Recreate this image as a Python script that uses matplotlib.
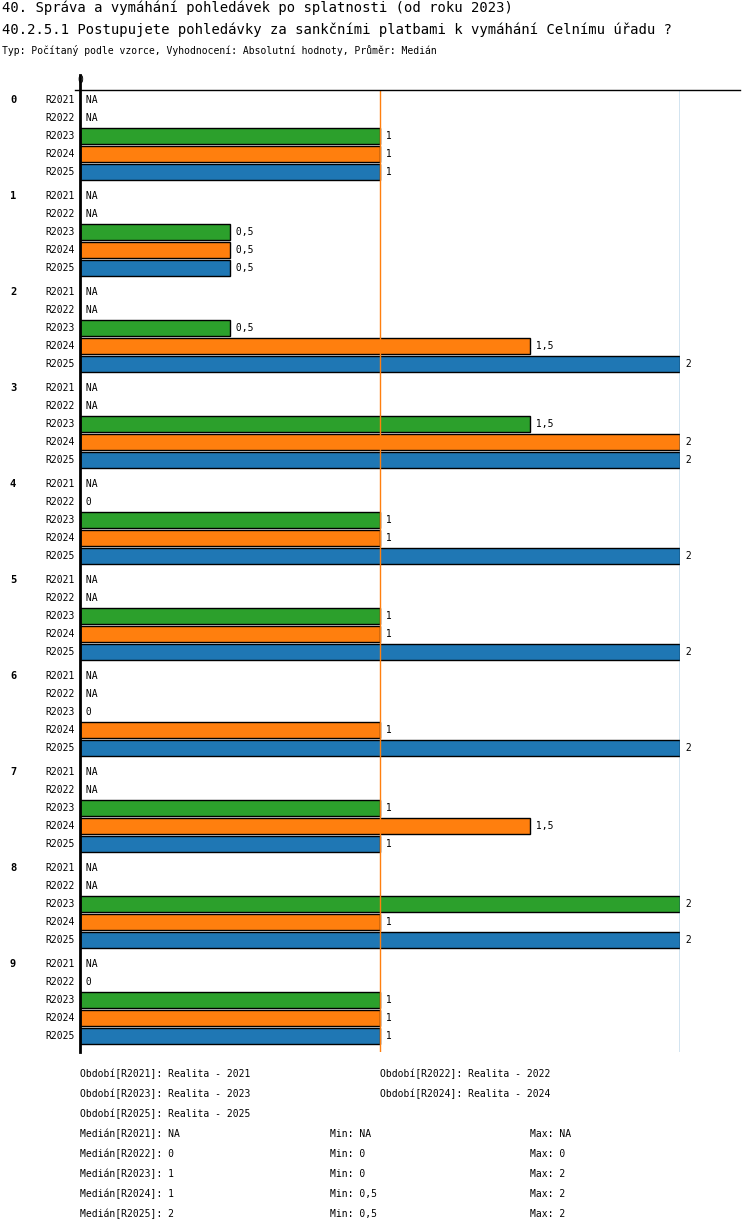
import numpy as np
import matplotlib
matplotlib.use('Agg')
from matplotlib import pyplot as plt

W, H = 750, 1232
NA = np.nan
groups = ['0', '1', '2', '3', '4', '5', '6', '7', '8', '9']
periods = ['R2021', 'R2022', 'R2023', 'R2024', 'R2025']
colors = {'R2021': '#d62728', 'R2022': '#9467bd', 'R2023': '#2ca02c',
          'R2024': '#ff7f0e', 'R2025': '#1f77b4'}
values = [
    [NA, NA, 1, 1, 1],
    [NA, NA, 0.5, 0.5, 0.5],
    [NA, NA, 0.5, 1.5, 2],
    [NA, NA, 1.5, 2, 2],
    [NA, 0, 1, 1, 2],
    [NA, NA, 1, 1, 2],
    [NA, NA, 0, 1, 2],
    [NA, NA, 1, 1.5, 1],
    [NA, NA, 2, 1, 2],
    [NA, 0, 1, 1, 1],
]
period_names = ['Období[R2021]: Realita - 2021', 'Období[R2022]: Realita - 2022',
                'Období[R2023]: Realita - 2023', 'Období[R2024]: Realita - 2024',
                'Období[R2025]: Realita - 2025']
stats = [('NA', 'NA', 'NA'), ('0', '0', '0'), ('1', '0', '2'),
         ('1', '0,5', '2'), ('2', '0,5', '2')]

MONO = 'DejaVu Sans Mono'


def fmt(v):
    if np.isnan(v):
        return 'NA'
    return ('%g' % v).replace('.', ',')


def px(x, y):
    return x / W, 1 - y / H


fig = plt.figure(figsize=(W / 100, H / 100), dpi=100)
top, bottom, left, right = 90, 1052, 80, 680
ax = fig.add_axes([left / W, 1 - bottom / H, (right - left) / W, (bottom - top) / H])
ax.set_xlim(0, 2)
ax.set_ylim(bottom, top)
ax.axis('off')
ax.axvline(1, color='#ff7f0e', lw=1)
ax.axvline(2, color='#1f77b4', lw=1)

for gi, g in enumerate(groups):
    for pj, p in enumerate(periods):
        y = 100 + 96 * gi + 18 * pj
        v = values[gi][pj]
        if not np.isnan(v) and v > 0:
            ax.barh(y, v, height=16, color=colors[p], edgecolor='black', lw=1)
        xt = 0 if np.isnan(v) else v
        ax.text(xt, y, ' ' + fmt(v), va='center', ha='left', fontsize=7, family=MONO)
        fig.text(*px(75, y), p, va='center', ha='right', fontsize=7, family=MONO)
    fig.text(*px(10, 100 + 96 * gi), g, va='center', ha='left', fontsize=7.5,
             family=MONO, weight='bold')

# axis lines
fig.add_artist(plt.Line2D([75 / W, 740 / W], [1 - top / H] * 2, color='black', lw=1))
fig.add_artist(plt.Line2D([left / W] * 2, [1 - 75 / H, 1 - bottom / H], color='black', lw=2))
fig.text(*px(80, 80), '0', ha='center', va='center', fontsize=7, family=MONO)

fig.text(*px(2, 8), '40. Správa a vymáhání pohledávek po splatnosti (od roku 2023)',
         va='center', fontsize=10, family=MONO)
fig.text(*px(2, 30), '40.2.5.1 Postupujete pohledávky za sankčními platbami k vymáhání Celnímu úřadu ?',
         va='center', fontsize=10, family=MONO)
fig.text(*px(2, 51), 'Typ: Počítaný podle vzorce, Vyhodnocení: Absolutní hodnoty, Průměr: Medián',
         va='center', fontsize=7, family=MONO)

for i, s in enumerate(period_names):
    x = 80 if i % 2 == 0 else 380
    y = 1074 + 20 * (i // 2)
    fig.text(*px(x, y), s, va='center', fontsize=7, family=MONO)
for i, (p, st) in enumerate(zip(periods, stats)):
    y = 1134 + 20 * i
    fig.text(*px(80, y), 'Medián[%s]: %s' % (p, st[0]), va='center', fontsize=7, family=MONO)
    fig.text(*px(330, y), 'Min: %s' % st[1], va='center', fontsize=7, family=MONO)
    fig.text(*px(530, y), 'Max: %s' % st[2], va='center', fontsize=7, family=MONO)

fig.savefig('out.png', dpi=100)
